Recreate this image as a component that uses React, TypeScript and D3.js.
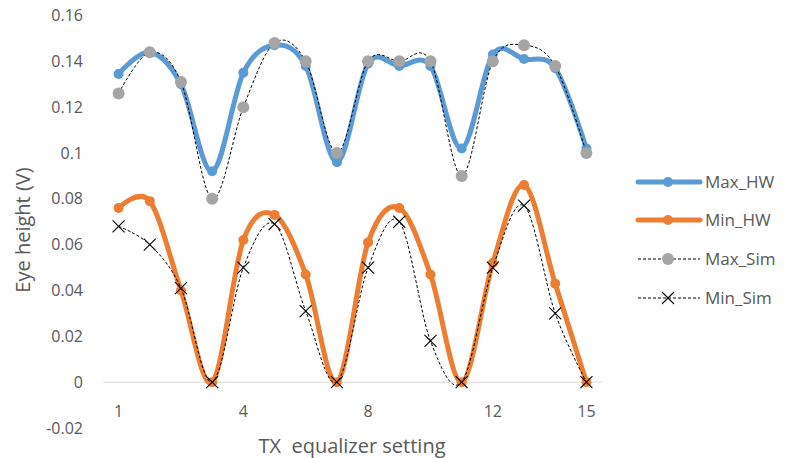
import React from "react";
import * as d3 from "d3";

const categories = ["1", "", "", "", "4", "", "", "", "8", "", "", "", "12", "", "", "15"];
const maxHW = [0.1345, 0.144, 0.130, 0.092, 0.135, 0.147, 0.138, 0.096, 0.139, 0.138, 0.138, 0.102, 0.143, 0.141, 0.137, 0.102];
const minHW = [0.076, 0.079, 0.040, 0, 0.062, 0.073, 0.047, 0, 0.061, 0.076, 0.047, 0, 0.052, 0.086, 0.043, 0];
const maxSim = [0.126, 0.144, 0.131, 0.080, 0.120, 0.148, 0.140, 0.100, 0.140, 0.140, 0.140, 0.090, 0.140, 0.147, 0.138, 0.100];
const minSim = [0.068, 0.060, 0.041, 0, 0.050, 0.069, 0.031, 0, 0.050, 0.070, 0.018, 0, 0.050, 0.077, 0.030, 0];
const yTicks = [-0.02, 0, 0.02, 0.04, 0.06, 0.08, 0.1, 0.12, 0.14, 0.16];

const W = 785;
const H = 458;
const FONT = "'Open Sans', sans-serif";
const TEXT = "#595959";

export default function App() {
  const idx = categories.map((_, i) => String(i));
  const x = d3.scaleBand<string>().domain(idx).range([103, 602]).padding(0);
  const cx = (i: number) => (x(String(i)) as number) + x.bandwidth() / 2;
  const y = d3.scaleLinear().domain([-0.02, 0.16]).range([428, 15.5]);
  const line = d3
    .line<number>()
    .x((_, i) => cx(i))
    .y((d) => y(d))
    .curve(d3.curveCardinal.tension(0));

  const fmt = (v: number) => String(+v.toFixed(2));

  const cross = (px: number, py: number, s = 6, key?: string) => (
    <path
      key={key}
      d={`M${px - s},${py - s}L${px + s},${py + s}M${px - s},${py + s}L${px + s},${py - s}`}
      stroke="#000"
      strokeWidth={1.1}
      fill="none"
    />
  );

  const legend = [
    { name: "Max_HW", kind: "hwblue" },
    { name: "Min_HW", kind: "hworange" },
    { name: "Max_Sim", kind: "simdot" },
    { name: "Min_Sim", kind: "simx" },
  ];
  const legendY = [182, 220, 259, 298];

  return (
    <svg
      width={W}
      height={H}
      style={{ position: "absolute", left: 0, top: 0, background: "#fff" }}
      fontFamily={FONT}
    >
      <rect width={W} height={H} fill="#fff" />
      {/* zero line */}
      <line x1={103} x2={602} y1={y(0)} y2={y(0)} stroke="#D9D9D9" strokeWidth={1} />
      {/* y tick labels */}
      {yTicks.map((t) => (
        <text key={t} x={83} y={y(t)} dy="0.35em" textAnchor="end" fontSize={16} fill={TEXT}>
          {fmt(t)}
        </text>
      ))}
      {/* x tick labels */}
      {categories.map((c, i) =>
        c ? (
          <text key={i} x={cx(i)} y={411} dy="0.35em" textAnchor="middle" fontSize={16} fill={TEXT}>
            {c}
          </text>
        ) : null
      )}
      {/* axis titles */}
      <text
        transform={`translate(23,230) rotate(-90)`}
        textAnchor="middle"
        dy="0.35em"
        fontSize={20}
        fill={TEXT}
      >
        Eye height (V)
      </text>
      <text x={352} y={453} textAnchor="middle" fontSize={20} fill={TEXT} style={{ whiteSpace: "pre" }}>
        {"TX  equalizer setting"}
      </text>

      {/* HW series */}
      <path d={line(maxHW) || ""} fill="none" stroke="#5B9BD5" strokeWidth={5} strokeLinejoin="round" />
      {maxHW.map((v, i) => (
        <circle key={"mh" + i} cx={cx(i)} cy={y(v)} r={5} fill="#5B9BD5" />
      ))}
      <path d={line(minHW) || ""} fill="none" stroke="#ED7D31" strokeWidth={5} strokeLinejoin="round" />
      {minHW.map((v, i) => (
        <circle key={"nh" + i} cx={cx(i)} cy={y(v)} r={5} fill="#ED7D31" />
      ))}

      {/* Sim series */}
      <path d={line(maxSim) || ""} fill="none" stroke="#000" strokeWidth={1} strokeDasharray="3,2" />
      {maxSim.map((v, i) => (
        <circle key={"ms" + i} cx={cx(i)} cy={y(v)} r={6} fill="#A5A5A5" />
      ))}
      <path d={line(minSim) || ""} fill="none" stroke="#000" strokeWidth={1} strokeDasharray="3,2" />
      {minSim.map((v, i) => cross(cx(i), y(v), 6, "ns" + i))}

      {/* legend */}
      {legend.map((l, k) => {
        const ly = legendY[k];
        const x1 = 638;
        const x2 = 700;
        const mx = 668;
        let mark: React.ReactNode = null;
        let ln: React.ReactNode = null;
        if (l.kind === "hwblue" || l.kind === "hworange") {
          const col = l.kind === "hwblue" ? "#5B9BD5" : "#ED7D31";
          ln = <line x1={x1} x2={x2} y1={ly} y2={ly} stroke={col} strokeWidth={5} strokeLinecap="round" />;
          mark = <circle cx={mx} cy={ly} r={5} fill={col} />;
        } else if (l.kind === "simdot") {
          ln = <line x1={x1} x2={x2} y1={ly} y2={ly} stroke="#000" strokeWidth={1} strokeDasharray="3,2" />;
          mark = <circle cx={mx} cy={ly} r={6} fill="#A5A5A5" />;
        } else {
          ln = <line x1={x1} x2={x2} y1={ly} y2={ly} stroke="#000" strokeWidth={1} strokeDasharray="3,2" />;
          mark = cross(mx, ly, 6);
        }
        return (
          <g key={l.name}>
            {ln}
            {mark}
            <text x={705} y={ly} dy="0.35em" fontSize={17} fill={TEXT}>
              {l.name}
            </text>
          </g>
        );
      })}
    </svg>
  );
}
